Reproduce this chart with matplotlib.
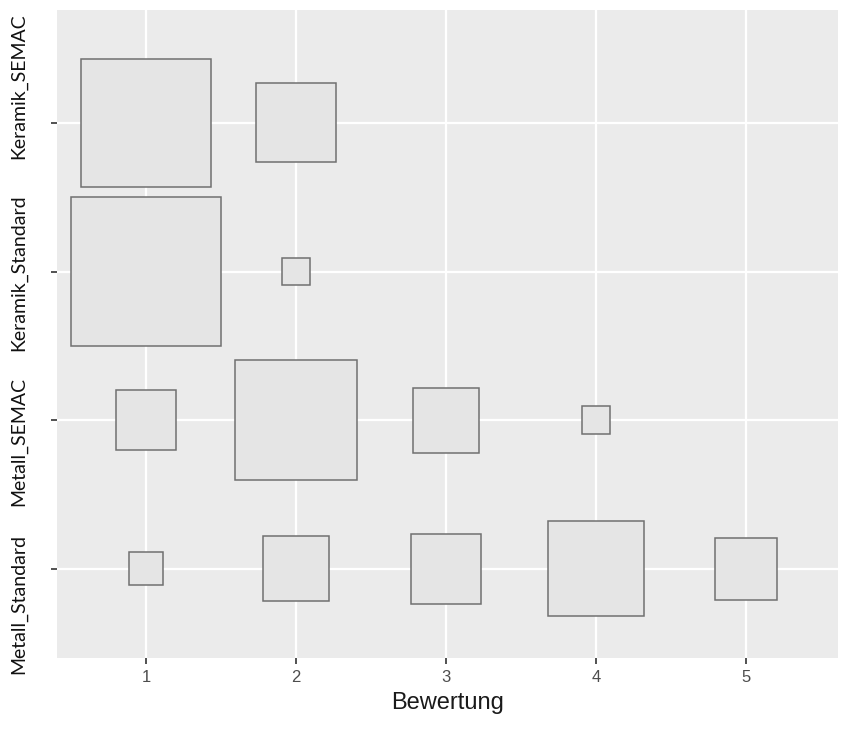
import numpy as np
import matplotlib.pyplot as plt
from matplotlib.transforms import ScaledTranslation, blended_transform_factory

# Gruppen (y) und Bewertungsstufen (x)
groups = ['Metall_Standard', 'Metall_SEMAC', 'Keramik_Standard', 'Keramik_SEMAC']
ratings = [1, 2, 3, 4, 5]

# relative Zellhäufigkeit, größte Zelle = 100 (Fläche der Quadrate)
metall_standard = [4.9, 19.2, 22.2, 40.9, 17.5]
metall_semac = [16.0, 65.6, 19.2, 3.4, 0]
keramik_standard = [100.0, 3.3, 0, 0, 0]
keramik_semac = [75.2, 28.2, 0, 0, 0]

freq = [metall_standard, metall_semac, keramik_standard, keramik_semac]

fig = plt.figure(figsize=(8.66, 7.51), dpi=100)
ax = fig.add_axes([57 / 866, 1 - 658 / 751, (838 - 57) / 866, (658 - 10) / 751])
ax.set_facecolor('#EBEBEB')

ypos = np.arange(1, len(groups) + 1)
for y, row in zip(ypos, freq):
    for x, v in zip(ratings, row):
        if v <= 0:
            continue
        side = np.sqrt(v / 100.0)
        ax.bar(x, side, width=side, bottom=y - side / 2,
               color='#E5E5E5', edgecolor='#707070', linewidth=1.1, zorder=3)

ax.set_xlim(0.407, 5.613)
ax.set_ylim(0.40, 4.76)
ax.set_xticks(ratings)
ax.set_yticks(ypos)
ax.set_yticklabels([])
ax.set_xticklabels([str(r) for r in ratings], fontsize=12,
                   family='Liberation Sans', color='#4D4D4D')

# Gruppennamen links, etwas gleichmäßiger über die Achse verteilt
label_shift = [-0.35, -0.21, -0.01, 0.37]  # Zoll, + = nach oben
trans = blended_transform_factory(ax.transAxes, ax.transData)
for y, name, dy in zip(ypos, groups, label_shift):
    off = ScaledTranslation(-0.30, dy, fig.dpi_scale_trans)
    ax.text(0, y, name, transform=trans + off, rotation=90,
            ha='right', va='center', fontsize=14, family='Lato',
            color='#111111')

ax.grid(True, color='white', linewidth=1.6, zorder=0)
ax.set_axisbelow(True)
for s in ax.spines.values():
    s.set_visible(False)

ax.tick_params(axis='x', length=4, width=1.2, color='#333333', pad=5)
ax.tick_params(axis='y', length=4, width=1.2, color='#333333')

ax.set_xlabel('Bewertung', fontsize=17, family='Liberation Sans',
              color='#1A1A1A', labelpad=5)

fig.savefig('out.png', dpi=100)
